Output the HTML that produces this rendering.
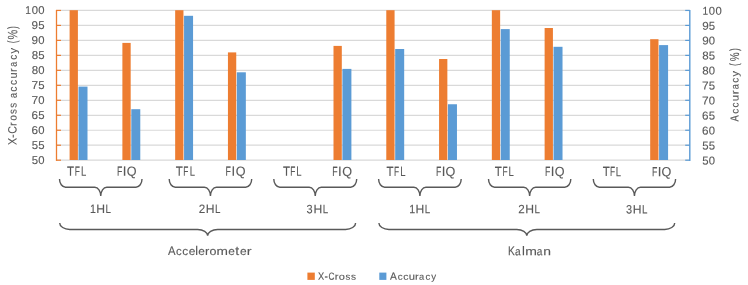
<!DOCTYPE html>
<html><head><meta charset="utf-8"><style>
html,body{margin:0;padding:0;background:#fff;width:748px;height:285px;overflow:hidden}
svg{display:block;will-change:transform}
text{font-family:"Liberation Sans",sans-serif;font-kerning:none;white-space:pre;text-rendering:geometricPrecision}
</style></head><body>
<svg width="748" height="285" viewBox="0 0 748 285">
<rect width="748" height="285" fill="#fff"/>
<line x1="56.5" y1="160.20" x2="689.8" y2="160.20" stroke="#D9D9D9" stroke-width="1.2"/>
<line x1="56.5" y1="145.22" x2="689.8" y2="145.22" stroke="#D9D9D9" stroke-width="1.2"/>
<line x1="56.5" y1="130.25" x2="689.8" y2="130.25" stroke="#D9D9D9" stroke-width="1.2"/>
<line x1="56.5" y1="115.28" x2="689.8" y2="115.28" stroke="#D9D9D9" stroke-width="1.2"/>
<line x1="56.5" y1="100.30" x2="689.8" y2="100.30" stroke="#D9D9D9" stroke-width="1.2"/>
<line x1="56.5" y1="85.33" x2="689.8" y2="85.33" stroke="#D9D9D9" stroke-width="1.2"/>
<line x1="56.5" y1="70.35" x2="689.8" y2="70.35" stroke="#D9D9D9" stroke-width="1.2"/>
<line x1="56.5" y1="55.38" x2="689.8" y2="55.38" stroke="#D9D9D9" stroke-width="1.2"/>
<line x1="56.5" y1="40.40" x2="689.8" y2="40.40" stroke="#D9D9D9" stroke-width="1.2"/>
<line x1="56.5" y1="25.43" x2="689.8" y2="25.43" stroke="#D9D9D9" stroke-width="1.2"/>
<line x1="56.5" y1="10.45" x2="689.8" y2="10.45" stroke="#D9D9D9" stroke-width="1.2"/>
<rect x="69.60" y="10.20" width="8.30" height="149.80" fill="#ED7D31"/>
<rect x="78.50" y="86.60" width="9.00" height="73.40" fill="#5B9BD5"/>
<rect x="122.38" y="42.90" width="8.30" height="117.10" fill="#ED7D31"/>
<rect x="131.28" y="109.20" width="9.00" height="50.80" fill="#5B9BD5"/>
<rect x="175.16" y="10.20" width="8.30" height="149.80" fill="#ED7D31"/>
<rect x="184.06" y="15.80" width="9.00" height="144.20" fill="#5B9BD5"/>
<rect x="227.94" y="52.40" width="8.30" height="107.60" fill="#ED7D31"/>
<rect x="236.84" y="72.30" width="9.00" height="87.70" fill="#5B9BD5"/>
<rect x="333.50" y="45.90" width="8.30" height="114.10" fill="#ED7D31"/>
<rect x="342.40" y="68.90" width="9.00" height="91.10" fill="#5B9BD5"/>
<rect x="386.28" y="10.20" width="8.30" height="149.80" fill="#ED7D31"/>
<rect x="395.18" y="49.00" width="9.00" height="111.00" fill="#5B9BD5"/>
<rect x="439.06" y="59.00" width="8.30" height="101.00" fill="#ED7D31"/>
<rect x="447.96" y="104.25" width="9.00" height="55.75" fill="#5B9BD5"/>
<rect x="491.84" y="10.20" width="8.30" height="149.80" fill="#ED7D31"/>
<rect x="500.74" y="29.10" width="9.00" height="130.90" fill="#5B9BD5"/>
<rect x="544.62" y="28.00" width="8.30" height="132.00" fill="#ED7D31"/>
<rect x="553.52" y="46.80" width="9.00" height="113.20" fill="#5B9BD5"/>
<rect x="650.18" y="39.20" width="8.30" height="120.80" fill="#ED7D31"/>
<rect x="659.08" y="45.10" width="9.00" height="114.90" fill="#5B9BD5"/>
<line x1="56.5" y1="9.9" x2="56.5" y2="160.9" stroke="#ED7D31" stroke-width="1.3"/>
<line x1="689.8" y1="9.9" x2="689.8" y2="160.9" stroke="#5B9BD5" stroke-width="1.4"/>
<line x1="56.5" y1="160.20" x2="61.0" y2="160.20" stroke="#ED7D31" stroke-width="1.2"/>
<line x1="685.1999999999999" y1="160.20" x2="689.8" y2="160.20" stroke="#5B9BD5" stroke-width="1.2"/>
<line x1="56.5" y1="145.22" x2="61.0" y2="145.22" stroke="#ED7D31" stroke-width="1.2"/>
<line x1="685.1999999999999" y1="145.22" x2="689.8" y2="145.22" stroke="#5B9BD5" stroke-width="1.2"/>
<line x1="56.5" y1="130.25" x2="61.0" y2="130.25" stroke="#ED7D31" stroke-width="1.2"/>
<line x1="685.1999999999999" y1="130.25" x2="689.8" y2="130.25" stroke="#5B9BD5" stroke-width="1.2"/>
<line x1="56.5" y1="115.28" x2="61.0" y2="115.28" stroke="#ED7D31" stroke-width="1.2"/>
<line x1="685.1999999999999" y1="115.28" x2="689.8" y2="115.28" stroke="#5B9BD5" stroke-width="1.2"/>
<line x1="56.5" y1="100.30" x2="61.0" y2="100.30" stroke="#ED7D31" stroke-width="1.2"/>
<line x1="685.1999999999999" y1="100.30" x2="689.8" y2="100.30" stroke="#5B9BD5" stroke-width="1.2"/>
<line x1="56.5" y1="85.33" x2="61.0" y2="85.33" stroke="#ED7D31" stroke-width="1.2"/>
<line x1="685.1999999999999" y1="85.33" x2="689.8" y2="85.33" stroke="#5B9BD5" stroke-width="1.2"/>
<line x1="56.5" y1="70.35" x2="61.0" y2="70.35" stroke="#ED7D31" stroke-width="1.2"/>
<line x1="685.1999999999999" y1="70.35" x2="689.8" y2="70.35" stroke="#5B9BD5" stroke-width="1.2"/>
<line x1="56.5" y1="55.38" x2="61.0" y2="55.38" stroke="#ED7D31" stroke-width="1.2"/>
<line x1="685.1999999999999" y1="55.38" x2="689.8" y2="55.38" stroke="#5B9BD5" stroke-width="1.2"/>
<line x1="56.5" y1="40.40" x2="61.0" y2="40.40" stroke="#ED7D31" stroke-width="1.2"/>
<line x1="685.1999999999999" y1="40.40" x2="689.8" y2="40.40" stroke="#5B9BD5" stroke-width="1.2"/>
<line x1="56.5" y1="25.43" x2="61.0" y2="25.43" stroke="#ED7D31" stroke-width="1.2"/>
<line x1="685.1999999999999" y1="25.43" x2="689.8" y2="25.43" stroke="#5B9BD5" stroke-width="1.2"/>
<line x1="56.5" y1="10.45" x2="61.0" y2="10.45" stroke="#ED7D31" stroke-width="1.2"/>
<line x1="685.1999999999999" y1="10.45" x2="689.8" y2="10.45" stroke="#5B9BD5" stroke-width="1.2"/>
<text transform="translate(0,163.89) rotate(0.05)" font-size="11.40" fill="#595959" stroke="#595959" stroke-width="0.120"><tspan x="31.69" y="0.00" textLength="6.334" lengthAdjust="spacingAndGlyphs">5</tspan><tspan x="38.31" y="0.00" textLength="6.283" lengthAdjust="spacingAndGlyphs">0</tspan></text>
<text transform="translate(0,163.84) rotate(0.05)" font-size="11.40" fill="#595959" stroke="#595959" stroke-width="0.120"><tspan x="702.24" y="0.00" textLength="6.334" lengthAdjust="spacingAndGlyphs">5</tspan><tspan x="708.86" y="0.00" textLength="6.283" lengthAdjust="spacingAndGlyphs">0</tspan></text>
<text transform="translate(0,148.91) rotate(0.05)" font-size="11.40" fill="#595959" stroke="#595959" stroke-width="0.120"><tspan x="31.69" y="0.00" textLength="6.334" lengthAdjust="spacingAndGlyphs">5</tspan><tspan x="38.29" y="0.00" textLength="6.334" lengthAdjust="spacingAndGlyphs">5</tspan></text>
<text transform="translate(0,148.86) rotate(0.05)" font-size="11.40" fill="#595959" stroke="#595959" stroke-width="0.120"><tspan x="702.24" y="0.00" textLength="6.334" lengthAdjust="spacingAndGlyphs">5</tspan><tspan x="708.84" y="0.00" textLength="6.334" lengthAdjust="spacingAndGlyphs">5</tspan></text>
<text transform="translate(0,133.93) rotate(0.05)" font-size="11.40" fill="#595959" stroke="#595959" stroke-width="0.120"><tspan x="31.56" y="0.00" textLength="6.509" lengthAdjust="spacingAndGlyphs">6</tspan><tspan x="38.31" y="0.00" textLength="6.283" lengthAdjust="spacingAndGlyphs">0</tspan></text>
<text transform="translate(0,133.88) rotate(0.05)" font-size="11.40" fill="#595959" stroke="#595959" stroke-width="0.120"><tspan x="702.11" y="0.00" textLength="6.509" lengthAdjust="spacingAndGlyphs">6</tspan><tspan x="708.86" y="0.00" textLength="6.283" lengthAdjust="spacingAndGlyphs">0</tspan></text>
<text transform="translate(0,118.95) rotate(0.05)" font-size="11.40" fill="#595959" stroke="#595959" stroke-width="0.120"><tspan x="31.56" y="0.00" textLength="6.509" lengthAdjust="spacingAndGlyphs">6</tspan><tspan x="38.29" y="0.00" textLength="6.334" lengthAdjust="spacingAndGlyphs">5</tspan></text>
<text transform="translate(0,118.90) rotate(0.05)" font-size="11.40" fill="#595959" stroke="#595959" stroke-width="0.120"><tspan x="702.11" y="0.00" textLength="6.509" lengthAdjust="spacingAndGlyphs">6</tspan><tspan x="708.84" y="0.00" textLength="6.334" lengthAdjust="spacingAndGlyphs">5</tspan></text>
<text transform="translate(0,103.97) rotate(0.05)" font-size="11.40" fill="#595959" stroke="#595959" stroke-width="0.120"><tspan x="31.54" y="0.00" textLength="6.606" lengthAdjust="spacingAndGlyphs">7</tspan><tspan x="38.31" y="0.00" textLength="6.283" lengthAdjust="spacingAndGlyphs">0</tspan></text>
<text transform="translate(0,103.92) rotate(0.05)" font-size="11.40" fill="#595959" stroke="#595959" stroke-width="0.120"><tspan x="702.09" y="0.00" textLength="6.606" lengthAdjust="spacingAndGlyphs">7</tspan><tspan x="708.86" y="0.00" textLength="6.283" lengthAdjust="spacingAndGlyphs">0</tspan></text>
<text transform="translate(0,88.99) rotate(0.05)" font-size="11.40" fill="#595959" stroke="#595959" stroke-width="0.120"><tspan x="31.54" y="0.00" textLength="6.606" lengthAdjust="spacingAndGlyphs">7</tspan><tspan x="38.29" y="0.00" textLength="6.334" lengthAdjust="spacingAndGlyphs">5</tspan></text>
<text transform="translate(0,88.94) rotate(0.05)" font-size="11.40" fill="#595959" stroke="#595959" stroke-width="0.120"><tspan x="702.09" y="0.00" textLength="6.606" lengthAdjust="spacingAndGlyphs">7</tspan><tspan x="708.84" y="0.00" textLength="6.334" lengthAdjust="spacingAndGlyphs">5</tspan></text>
<text transform="translate(0,74.01) rotate(0.05)" font-size="11.40" fill="#595959" stroke="#595959" stroke-width="0.120"><tspan x="31.65" y="0.00" textLength="6.400" lengthAdjust="spacingAndGlyphs">8</tspan><tspan x="38.31" y="0.00" textLength="6.283" lengthAdjust="spacingAndGlyphs">0</tspan></text>
<text transform="translate(0,73.96) rotate(0.05)" font-size="11.40" fill="#595959" stroke="#595959" stroke-width="0.120"><tspan x="702.20" y="0.00" textLength="6.400" lengthAdjust="spacingAndGlyphs">8</tspan><tspan x="708.86" y="0.00" textLength="6.283" lengthAdjust="spacingAndGlyphs">0</tspan></text>
<text transform="translate(0,59.03) rotate(0.05)" font-size="11.40" fill="#595959" stroke="#595959" stroke-width="0.120"><tspan x="31.65" y="0.00" textLength="6.400" lengthAdjust="spacingAndGlyphs">8</tspan><tspan x="38.29" y="0.00" textLength="6.334" lengthAdjust="spacingAndGlyphs">5</tspan></text>
<text transform="translate(0,58.98) rotate(0.05)" font-size="11.40" fill="#595959" stroke="#595959" stroke-width="0.120"><tspan x="702.20" y="0.00" textLength="6.400" lengthAdjust="spacingAndGlyphs">8</tspan><tspan x="708.84" y="0.00" textLength="6.334" lengthAdjust="spacingAndGlyphs">5</tspan></text>
<text transform="translate(0,44.05) rotate(0.05)" font-size="11.40" fill="#595959" stroke="#595959" stroke-width="0.120"><tspan x="31.60" y="0.00" textLength="6.502" lengthAdjust="spacingAndGlyphs">9</tspan><tspan x="38.31" y="0.00" textLength="6.283" lengthAdjust="spacingAndGlyphs">0</tspan></text>
<text transform="translate(0,44.00) rotate(0.05)" font-size="11.40" fill="#595959" stroke="#595959" stroke-width="0.120"><tspan x="702.15" y="0.00" textLength="6.502" lengthAdjust="spacingAndGlyphs">9</tspan><tspan x="708.86" y="0.00" textLength="6.283" lengthAdjust="spacingAndGlyphs">0</tspan></text>
<text transform="translate(0,29.07) rotate(0.05)" font-size="11.40" fill="#595959" stroke="#595959" stroke-width="0.120"><tspan x="31.60" y="0.00" textLength="6.502" lengthAdjust="spacingAndGlyphs">9</tspan><tspan x="38.29" y="0.00" textLength="6.334" lengthAdjust="spacingAndGlyphs">5</tspan></text>
<text transform="translate(0,29.02) rotate(0.05)" font-size="11.40" fill="#595959" stroke="#595959" stroke-width="0.120"><tspan x="702.15" y="0.00" textLength="6.502" lengthAdjust="spacingAndGlyphs">9</tspan><tspan x="708.84" y="0.00" textLength="6.334" lengthAdjust="spacingAndGlyphs">5</tspan></text>
<text transform="translate(0,14.09) rotate(0.05)" font-size="11.40" fill="#595959" stroke="#595959" stroke-width="0.120"><tspan x="25.27" y="0.00" textLength="5.676" lengthAdjust="spacingAndGlyphs">1</tspan><tspan x="31.71" y="0.00" textLength="6.283" lengthAdjust="spacingAndGlyphs">0</tspan><tspan x="38.31" y="0.00" textLength="6.283" lengthAdjust="spacingAndGlyphs">0</tspan></text>
<text transform="translate(0,14.04) rotate(0.05)" font-size="11.40" fill="#595959" stroke="#595959" stroke-width="0.120"><tspan x="702.42" y="0.00" textLength="5.676" lengthAdjust="spacingAndGlyphs">1</tspan><tspan x="708.86" y="0.00" textLength="6.283" lengthAdjust="spacingAndGlyphs">0</tspan><tspan x="715.46" y="0.00" textLength="6.283" lengthAdjust="spacingAndGlyphs">0</tspan></text>
<text transform="translate(16.54,200.0) rotate(-89.95)" font-size="12.05" fill="#595959" stroke="#595959" stroke-width="0.120"><tspan x="55.01" y="0.00" textLength="7.060" lengthAdjust="spacingAndGlyphs">X</tspan><tspan x="62.04" y="0.00" textLength="3.819" lengthAdjust="spacingAndGlyphs">-</tspan><tspan x="66.21" y="0.00" textLength="7.640" lengthAdjust="spacingAndGlyphs">C</tspan><tspan x="74.11" font-size="10.84" y="0.00" textLength="3.730" lengthAdjust="spacingAndGlyphs">r</tspan><tspan x="79.31" font-size="10.84" y="0.00" textLength="5.772" lengthAdjust="spacingAndGlyphs">o</tspan><tspan x="86.08" font-size="10.84" y="0.00" textLength="4.931" lengthAdjust="spacingAndGlyphs">s</tspan><tspan x="92.28" font-size="10.84" y="0.00" textLength="4.931" lengthAdjust="spacingAndGlyphs">s</tspan><tspan x="100.00"> </tspan><tspan x="102.01" font-size="10.84" y="0.00" textLength="5.089" lengthAdjust="spacingAndGlyphs">a</tspan><tspan x="108.21" font-size="10.84" y="0.00" textLength="5.219" lengthAdjust="spacingAndGlyphs">c</tspan><tspan x="115.12" font-size="10.84" y="0.00" textLength="5.103" lengthAdjust="spacingAndGlyphs">c</tspan><tspan x="121.63" font-size="10.84" y="0.00" textLength="6.153" lengthAdjust="spacingAndGlyphs">u</tspan><tspan x="128.11" font-size="10.84" y="0.00" textLength="3.730" lengthAdjust="spacingAndGlyphs">r</tspan><tspan x="133.28" font-size="10.84" y="0.00" textLength="4.872" lengthAdjust="spacingAndGlyphs">a</tspan><tspan x="140.33" font-size="10.84" y="0.00" textLength="4.987" lengthAdjust="spacingAndGlyphs">c</tspan><tspan x="146.42" font-size="10.84" y="0.00" textLength="5.549" lengthAdjust="spacingAndGlyphs">y</tspan><tspan x="154.00"> </tspan><tspan x="156.76" font-size="13.25" y="0.00" textLength="2.889" lengthAdjust="spacingAndGlyphs">(</tspan><tspan x="160.56" font-size="13.50" y="0.45" textLength="9.676" lengthAdjust="spacingAndGlyphs">%</tspan><tspan x="171.00" font-size="13.25" y="0.00" textLength="2.763" lengthAdjust="spacingAndGlyphs">)</tspan></text>
<text transform="translate(738.49,200.0) rotate(-89.95)" font-size="11.54" fill="#595959" stroke="#595959" stroke-width="0.120"><tspan x="78.53" y="0.00" textLength="6.237" lengthAdjust="spacingAndGlyphs">A</tspan><tspan x="86.23" font-size="10.39" y="0.00" textLength="4.987" lengthAdjust="spacingAndGlyphs">c</tspan><tspan x="92.43" font-size="10.39" y="0.00" textLength="4.987" lengthAdjust="spacingAndGlyphs">c</tspan><tspan x="98.80" font-size="10.39" y="0.00" textLength="6.415" lengthAdjust="spacingAndGlyphs">u</tspan><tspan x="105.85" font-size="10.39" y="0.00" textLength="3.996" lengthAdjust="spacingAndGlyphs">r</tspan><tspan x="110.81" font-size="10.39" y="0.00" textLength="5.089" lengthAdjust="spacingAndGlyphs">a</tspan><tspan x="117.23" font-size="10.39" y="0.00" textLength="4.987" lengthAdjust="spacingAndGlyphs">c</tspan><tspan x="123.42" font-size="10.39" y="0.00" textLength="5.448" lengthAdjust="spacingAndGlyphs">y</tspan><tspan x="131.00"> </tspan><tspan x="133.96" font-size="12.69" y="0.00" textLength="2.889" lengthAdjust="spacingAndGlyphs">(</tspan><tspan x="138.69" font-size="12.93" y="0.45" textLength="8.915" lengthAdjust="spacingAndGlyphs">%</tspan><tspan x="149.00" font-size="12.69" y="0.00" textLength="2.763" lengthAdjust="spacingAndGlyphs">)</tspan></text>
<text transform="translate(0,175.59) rotate(0.05)" font-size="13.29" fill="#595959" stroke="#595959" stroke-width="0.120"><tspan x="67.04" y="0.00" textLength="7.022" lengthAdjust="spacingAndGlyphs">T</tspan><tspan x="74.71" y="0.00" textLength="5.124" lengthAdjust="spacingAndGlyphs">F</tspan><tspan x="80.97" y="0.00" textLength="5.298" lengthAdjust="spacingAndGlyphs">L</tspan></text>
<text transform="translate(0,175.59) rotate(0.05)" font-size="13.29" fill="#595959" stroke="#595959" stroke-width="0.120"><tspan x="117.08" y="0.00" textLength="5.374" lengthAdjust="spacingAndGlyphs">F</tspan><tspan x="122.75" y="0.00" textLength="3.691" lengthAdjust="spacingAndGlyphs">I</tspan><tspan x="126.75" y="0.00" textLength="9.800" lengthAdjust="spacingAndGlyphs">Q</tspan></text>
<text transform="translate(0,175.59) rotate(0.05)" font-size="13.29" fill="#595959" stroke="#595959" stroke-width="0.120"><tspan x="175.64" y="0.00" textLength="7.022" lengthAdjust="spacingAndGlyphs">T</tspan><tspan x="183.36" y="0.00" textLength="5.124" lengthAdjust="spacingAndGlyphs">F</tspan><tspan x="189.67" y="0.00" textLength="5.298" lengthAdjust="spacingAndGlyphs">L</tspan></text>
<text transform="translate(0,175.59) rotate(0.05)" font-size="13.29" fill="#595959" stroke="#595959" stroke-width="0.120"><tspan x="225.58" y="0.00" textLength="5.374" lengthAdjust="spacingAndGlyphs">F</tspan><tspan x="231.44" y="0.00" textLength="3.691" lengthAdjust="spacingAndGlyphs">I</tspan><tspan x="235.75" y="0.00" textLength="9.800" lengthAdjust="spacingAndGlyphs">Q</tspan></text>
<text transform="translate(0,175.59) rotate(0.05)" font-size="13.29" fill="#595959" stroke="#595959" stroke-width="0.120"><tspan x="283.04" y="0.00" textLength="7.022" lengthAdjust="spacingAndGlyphs">T</tspan><tspan x="290.33" y="0.00" textLength="5.124" lengthAdjust="spacingAndGlyphs">F</tspan><tspan x="296.27" y="0.00" textLength="5.298" lengthAdjust="spacingAndGlyphs">L</tspan></text>
<text transform="translate(0,175.59) rotate(0.05)" font-size="13.29" fill="#595959" stroke="#595959" stroke-width="0.120"><tspan x="332.28" y="0.00" textLength="5.374" lengthAdjust="spacingAndGlyphs">F</tspan><tspan x="338.10" y="0.00" textLength="3.691" lengthAdjust="spacingAndGlyphs">I</tspan><tspan x="342.35" y="0.00" textLength="9.800" lengthAdjust="spacingAndGlyphs">Q</tspan></text>
<text transform="translate(0,175.59) rotate(0.05)" font-size="13.29" fill="#595959" stroke="#595959" stroke-width="0.120"><tspan x="386.44" y="0.00" textLength="7.022" lengthAdjust="spacingAndGlyphs">T</tspan><tspan x="394.11" y="0.00" textLength="5.124" lengthAdjust="spacingAndGlyphs">F</tspan><tspan x="400.37" y="0.00" textLength="5.298" lengthAdjust="spacingAndGlyphs">L</tspan></text>
<text transform="translate(0,175.59) rotate(0.05)" font-size="13.29" fill="#595959" stroke="#595959" stroke-width="0.120"><tspan x="436.08" y="0.00" textLength="5.374" lengthAdjust="spacingAndGlyphs">F</tspan><tspan x="441.68" y="0.00" textLength="3.691" lengthAdjust="spacingAndGlyphs">I</tspan><tspan x="445.55" y="0.00" textLength="9.800" lengthAdjust="spacingAndGlyphs">Q</tspan></text>
<text transform="translate(0,175.59) rotate(0.05)" font-size="13.29" fill="#595959" stroke="#595959" stroke-width="0.120"><tspan x="494.84" y="0.00" textLength="7.022" lengthAdjust="spacingAndGlyphs">T</tspan><tspan x="502.40" y="0.00" textLength="5.124" lengthAdjust="spacingAndGlyphs">F</tspan><tspan x="508.57" y="0.00" textLength="5.298" lengthAdjust="spacingAndGlyphs">L</tspan></text>
<text transform="translate(0,175.59) rotate(0.05)" font-size="13.29" fill="#595959" stroke="#595959" stroke-width="0.120"><tspan x="544.98" y="0.00" textLength="5.374" lengthAdjust="spacingAndGlyphs">F</tspan><tspan x="550.69" y="0.00" textLength="3.691" lengthAdjust="spacingAndGlyphs">I</tspan><tspan x="554.75" y="0.00" textLength="9.800" lengthAdjust="spacingAndGlyphs">Q</tspan></text>
<text transform="translate(0,175.59) rotate(0.05)" font-size="13.29" fill="#595959" stroke="#595959" stroke-width="0.120"><tspan x="602.84" y="0.00" textLength="7.022" lengthAdjust="spacingAndGlyphs">T</tspan><tspan x="609.91" y="0.00" textLength="5.124" lengthAdjust="spacingAndGlyphs">F</tspan><tspan x="615.67" y="0.00" textLength="5.298" lengthAdjust="spacingAndGlyphs">L</tspan></text>
<text transform="translate(0,175.59) rotate(0.05)" font-size="13.29" fill="#595959" stroke="#595959" stroke-width="0.120"><tspan x="652.08" y="0.00" textLength="5.374" lengthAdjust="spacingAndGlyphs">F</tspan><tspan x="657.68" y="0.00" textLength="3.691" lengthAdjust="spacingAndGlyphs">I</tspan><tspan x="661.55" y="0.00" textLength="9.800" lengthAdjust="spacingAndGlyphs">Q</tspan></text>
<text transform="translate(0,212.89) rotate(0.05)" font-size="12.12" fill="#595959" stroke="#595959" stroke-width="0.120"><tspan x="89.94" y="0.00" textLength="5.934" lengthAdjust="spacingAndGlyphs">1</tspan><tspan x="96.35" y="0.00" textLength="8.791" lengthAdjust="spacingAndGlyphs">H</tspan><tspan x="105.60" y="0.00" textLength="5.424" lengthAdjust="spacingAndGlyphs">L</tspan></text>
<text transform="translate(0,212.89) rotate(0.05)" font-size="12.12" fill="#595959" stroke="#595959" stroke-width="0.120"><tspan x="198.76" y="0.00" textLength="6.470" lengthAdjust="spacingAndGlyphs">2</tspan><tspan x="205.80" y="0.00" textLength="8.791" lengthAdjust="spacingAndGlyphs">H</tspan><tspan x="215.05" y="0.00" textLength="5.424" lengthAdjust="spacingAndGlyphs">L</tspan></text>
<text transform="translate(0,212.89) rotate(0.05)" font-size="12.12" fill="#595959" stroke="#595959" stroke-width="0.120"><tspan x="306.58" y="0.00" textLength="6.100" lengthAdjust="spacingAndGlyphs">3</tspan><tspan x="313.40" y="0.00" textLength="8.791" lengthAdjust="spacingAndGlyphs">H</tspan><tspan x="322.65" y="0.00" textLength="5.424" lengthAdjust="spacingAndGlyphs">L</tspan></text>
<text transform="translate(0,212.89) rotate(0.05)" font-size="12.12" fill="#595959" stroke="#595959" stroke-width="0.120"><tspan x="409.19" y="0.00" textLength="5.934" lengthAdjust="spacingAndGlyphs">1</tspan><tspan x="415.60" y="0.00" textLength="8.791" lengthAdjust="spacingAndGlyphs">H</tspan><tspan x="424.85" y="0.00" textLength="5.424" lengthAdjust="spacingAndGlyphs">L</tspan></text>
<text transform="translate(0,212.89) rotate(0.05)" font-size="12.12" fill="#595959" stroke="#595959" stroke-width="0.120"><tspan x="518.16" y="0.00" textLength="6.470" lengthAdjust="spacingAndGlyphs">2</tspan><tspan x="525.20" y="0.00" textLength="8.791" lengthAdjust="spacingAndGlyphs">H</tspan><tspan x="534.45" y="0.00" textLength="5.424" lengthAdjust="spacingAndGlyphs">L</tspan></text>
<text transform="translate(0,212.89) rotate(0.05)" font-size="12.12" fill="#595959" stroke="#595959" stroke-width="0.120"><tspan x="625.98" y="0.00" textLength="6.100" lengthAdjust="spacingAndGlyphs">3</tspan><tspan x="632.80" y="0.00" textLength="8.791" lengthAdjust="spacingAndGlyphs">H</tspan><tspan x="642.05" y="0.00" textLength="5.424" lengthAdjust="spacingAndGlyphs">L</tspan></text>
<text transform="translate(0,254.84) rotate(0.05)" font-size="12.56" fill="#595959" stroke="#595959" stroke-width="0.120"><tspan x="167.93" y="0.00" textLength="7.544" lengthAdjust="spacingAndGlyphs">A</tspan><tspan x="175.97" font-size="11.30" y="0.00" textLength="5.682" lengthAdjust="spacingAndGlyphs">c</tspan><tspan x="182.25" font-size="11.30" y="0.00" textLength="5.914" lengthAdjust="spacingAndGlyphs">c</tspan><tspan x="188.69" font-size="11.30" y="0.00" textLength="6.637" lengthAdjust="spacingAndGlyphs">e</tspan><tspan x="195.20" y="0.00" textLength="2.790" lengthAdjust="spacingAndGlyphs">l</tspan><tspan x="198.29" font-size="11.30" y="0.00" textLength="6.637" lengthAdjust="spacingAndGlyphs">e</tspan><tspan x="205.05" font-size="11.30" y="0.00" textLength="4.262" lengthAdjust="spacingAndGlyphs">r</tspan><tspan x="209.53" font-size="11.30" y="0.00" textLength="6.949" lengthAdjust="spacingAndGlyphs">o</tspan><tspan x="216.54" font-size="11.30" y="0.00" textLength="11.413" lengthAdjust="spacingAndGlyphs">m</tspan><tspan x="228.24" font-size="11.30" y="0.00" textLength="6.637" lengthAdjust="spacingAndGlyphs">e</tspan><tspan x="235.24" y="0.00" textLength="3.917" lengthAdjust="spacingAndGlyphs">t</tspan><tspan x="239.94" font-size="11.30" y="0.00" textLength="6.637" lengthAdjust="spacingAndGlyphs">e</tspan><tspan x="246.89" font-size="11.30" y="0.00" textLength="4.795" lengthAdjust="spacingAndGlyphs">r</tspan></text>
<text transform="translate(0,254.69) rotate(0.05)" font-size="12.85" fill="#595959" stroke="#595959" stroke-width="0.120"><tspan x="507.91" y="0.00" textLength="6.859" lengthAdjust="spacingAndGlyphs">K</tspan><tspan x="515.02" font-size="11.56" y="0.00" textLength="5.630" lengthAdjust="spacingAndGlyphs">a</tspan><tspan x="522.12" y="0.00" textLength="2.855" lengthAdjust="spacingAndGlyphs">l</tspan><tspan x="525.22" font-size="11.56" y="0.00" textLength="11.651" lengthAdjust="spacingAndGlyphs">m</tspan><tspan x="536.72" font-size="11.56" y="0.00" textLength="5.630" lengthAdjust="spacingAndGlyphs">a</tspan><tspan x="543.23" font-size="11.56" y="0.00" textLength="7.724" lengthAdjust="spacingAndGlyphs">n</tspan></text>
<rect x="307.4" y="272.6" width="7.4" height="7.3" fill="#ED7D31"/>
<rect x="379.3" y="272.6" width="7.1" height="7.3" fill="#5B9BD5"/>
<text transform="translate(0,279.49) rotate(0.05)" font-size="10.38" fill="#595959" stroke="#595959" stroke-width="0.120"><tspan x="317.89" y="0.00" textLength="6.204" lengthAdjust="spacingAndGlyphs">X</tspan><tspan x="324.55" y="0.00" textLength="3.410" lengthAdjust="spacingAndGlyphs">-</tspan><tspan x="328.43" y="0.00" textLength="6.044" lengthAdjust="spacingAndGlyphs">C</tspan><tspan x="334.86" font-size="9.34" y="0.00" textLength="3.730" lengthAdjust="spacingAndGlyphs">r</tspan><tspan x="338.74" font-size="9.34" y="0.00" textLength="6.125" lengthAdjust="spacingAndGlyphs">o</tspan><tspan x="345.43" font-size="9.34" y="0.00" textLength="4.816" lengthAdjust="spacingAndGlyphs">s</tspan><tspan x="351.02" font-size="9.34" y="0.00" textLength="5.045" lengthAdjust="spacingAndGlyphs">s</tspan></text>
<text transform="translate(0,279.49) rotate(0.05)" font-size="10.38" fill="#595959" stroke="#595959" stroke-width="0.120"><tspan x="390.08" y="0.00" textLength="6.840" lengthAdjust="spacingAndGlyphs">A</tspan><tspan x="397.69" font-size="9.34" y="0.00" textLength="4.871" lengthAdjust="spacingAndGlyphs">c</tspan><tspan x="403.36" font-size="9.34" y="0.00" textLength="5.219" lengthAdjust="spacingAndGlyphs">c</tspan><tspan x="408.77" font-size="9.34" y="0.00" textLength="6.284" lengthAdjust="spacingAndGlyphs">u</tspan><tspan x="415.06" font-size="9.34" y="0.00" textLength="3.730" lengthAdjust="spacingAndGlyphs">r</tspan><tspan x="419.10" font-size="9.34" y="0.00" textLength="5.197" lengthAdjust="spacingAndGlyphs">a</tspan><tspan x="425.50" font-size="9.34" y="0.00" textLength="4.755" lengthAdjust="spacingAndGlyphs">c</tspan><tspan x="431.18" font-size="9.34" y="0.00" textLength="4.843" lengthAdjust="spacingAndGlyphs">y</tspan></text>
<path d="M59.50,178.90 A6.0,8.30 0 0 0 65.50,187.20 L94.75,187.20 A6.0,8.80 0 0 1 100.75,196.00 A6.0,8.80 0 0 1 106.75,187.20 L136.00,187.20 A6.0,8.30 0 0 0 142.00,178.90" fill="none" stroke="#595959" stroke-width="1.4"/>
<path d="M169.20,178.90 A6.0,8.30 0 0 0 175.20,187.20 L204.45,187.20 A6.0,8.80 0 0 1 210.45,196.00 A6.0,8.80 0 0 1 216.45,187.20 L245.70,187.20 A6.0,8.30 0 0 0 251.70,178.90" fill="none" stroke="#595959" stroke-width="1.4"/>
<path d="M273.80,178.90 A6.0,8.30 0 0 0 279.80,187.20 L309.25,187.20 A6.0,8.80 0 0 1 315.25,196.00 A6.0,8.80 0 0 1 321.25,187.20 L350.70,187.20 A6.0,8.30 0 0 0 356.70,178.90" fill="none" stroke="#595959" stroke-width="1.4"/>
<path d="M378.60,178.90 A6.0,8.30 0 0 0 384.60,187.20 L413.90,187.20 A6.0,8.80 0 0 1 419.90,196.00 A6.0,8.80 0 0 1 425.90,187.20 L455.20,187.20 A6.0,8.30 0 0 0 461.20,178.90" fill="none" stroke="#595959" stroke-width="1.4"/>
<path d="M488.50,178.90 A6.0,8.30 0 0 0 494.50,187.20 L523.65,187.20 A6.0,8.80 0 0 1 529.65,196.00 A6.0,8.80 0 0 1 535.65,187.20 L564.80,187.20 A6.0,8.30 0 0 0 570.80,178.90" fill="none" stroke="#595959" stroke-width="1.4"/>
<path d="M593.30,178.90 A6.0,8.30 0 0 0 599.30,187.20 L628.45,187.20 A6.0,8.80 0 0 1 634.45,196.00 A6.0,8.80 0 0 1 640.45,187.20 L669.60,187.20 A6.0,8.30 0 0 0 675.60,178.90" fill="none" stroke="#595959" stroke-width="1.4"/>
<path d="M59.70,222.90 A10.0,6.55 0 0 0 69.70,229.45 L197.65,229.45 A10.0,6.35 0 0 1 207.65,235.80 A10.0,6.35 0 0 1 217.65,229.45 L345.60,229.45 A10.0,6.55 0 0 0 355.60,222.90" fill="none" stroke="#595959" stroke-width="1.4"/>
<path d="M378.90,222.90 A10.0,6.55 0 0 0 388.90,229.45 L516.80,229.45 A10.0,6.35 0 0 1 526.80,235.80 A10.0,6.35 0 0 1 536.80,229.45 L664.70,229.45 A10.0,6.55 0 0 0 674.70,222.90" fill="none" stroke="#595959" stroke-width="1.4"/>
</svg>
</body></html>
